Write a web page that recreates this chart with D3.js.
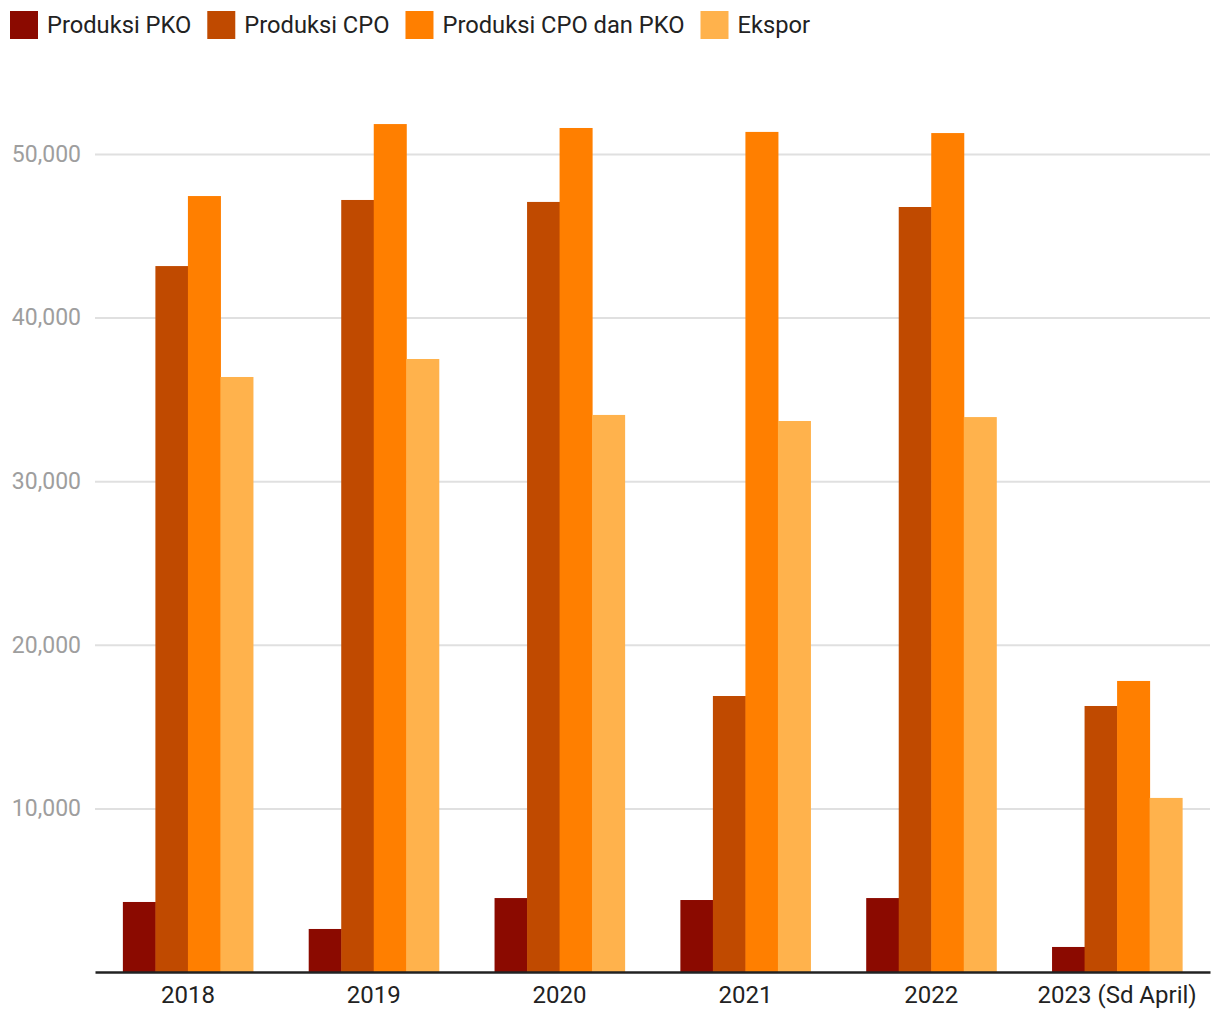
<!DOCTYPE html>
<html>
<head>
<meta charset="utf-8">
<script src="https://cdn.jsdelivr.net/npm/d3@7"></script>
<style>
  body { margin: 0; background: #fff; }
  text { font-family: Roboto, "Noto Sans", sans-serif; }
</style>
</head>
<body>
<div id="chart"></div>
<script>
const years = ["2018", "2019", "2020", "2021", "2022", "2023 (Sd April)"];
const seriesNames = ["Produksi PKO", "Produksi CPO", "Produksi CPO dan PKO", "Ekspor"];
const produksiPKO = [4280, 2630, 4520, 4400, 4520, 1530];
const produksiCPO = [43150, 47190, 47070, 16870, 46760, 16260];
const produksiTotal = [47430, 51830, 51590, 51350, 51280, 17790];
const ekspor = [36370, 37470, 34050, 33680, 33920, 10640];
const yTicks = [10000, 20000, 30000, 40000, 50000];
const colors = ["#8b0a00", "#c04a00", "#ff7f00", "#ffb24c"];

const seriesValues = [produksiPKO, produksiCPO, produksiTotal, ekspor];

const svgWidth = 1220;
const svgHeight = 1020;
const margin = {top: 72, right: 10, bottom: 48, left: 95};
const chartWidth = svgWidth - margin.left - margin.right;
const chartHeight = svgHeight - margin.top - margin.bottom;

const svg = d3.select("#chart")
    .append("svg")
        .attr("width", svgWidth)
        .attr("height", svgHeight);

const chart = svg.append("g")
    .attr("transform", `translate(${margin.left}, ${margin.top})`);

// scales
const yScale = d3.scaleLinear()
    .domain([0, 55000])
    .range([chartHeight, chartHeight - 55000 * 163.6 / 10000]);

const xScale = d3.scaleBand()
    .domain(years)
    .range([0, chartWidth])
    .paddingInner(0.3)
    .paddingOuter(0.15);

const innerScale = d3.scaleBand()
    .domain(seriesNames)
    .range([0, xScale.bandwidth()]);

// grid lines + y labels
const yAxis = d3.axisLeft(yScale)
    .tickValues(yTicks)
    .tickSize(-chartWidth)
    .tickFormat(d3.format(","));

const yAxisGroup = chart.append("g").call(yAxis);
yAxisGroup.select(".domain").remove();
yAxisGroup.selectAll(".tick line")
    .attr("stroke", "#e0e0e0")
    .attr("stroke-width", 2);
yAxisGroup.selectAll(".tick text")
    .attr("x", -14)
    .attr("fill", "#9e9e9e")
    .style("font-size", "23px");

// bars
const groups = chart.selectAll(".year")
    .data(years)
    .enter()
    .append("g")
        .attr("class", "year")
        .attr("transform", d => `translate(${xScale(d)}, 0)`);

groups.selectAll("rect")
    .data((d, i) => seriesNames.map((s, j) => ({series: s, value: seriesValues[j][i], color: colors[j]})))
    .enter()
    .append("rect")
        .attr("x", d => innerScale(d.series))
        .attr("width", innerScale.bandwidth() + 0.5)
        .attr("y", d => yScale(d.value))
        .attr("height", d => yScale(0) - yScale(d.value))
        .attr("fill", d => d.color);

// x axis
const xAxis = d3.axisBottom(xScale).tickSize(0).tickPadding(14);
const xAxisGroup = chart.append("g")
    .attr("transform", `translate(0, ${chartHeight})`)
    .call(xAxis);
xAxisGroup.select(".domain")
    .attr("stroke", "#222")
    .attr("stroke-width", 2.5);
xAxisGroup.selectAll(".tick text")
    .attr("fill", "#222")
    .style("font-size", "24px");

// legend
const legend = svg.append("g").attr("transform", "translate(10, 11)");
let lx = 0;
seriesNames.forEach((name, i) => {
    const item = legend.append("g").attr("transform", `translate(${lx}, 0)`);
    item.append("rect")
        .attr("width", 28)
        .attr("height", 28)
        .attr("fill", colors[i]);
    const t = item.append("text")
        .attr("x", 37)
        .attr("y", 14)
        .attr("dy", "0.35em")
        .attr("fill", "#222")
        .style("font-size", "23.7px")
        .text(name);
    lx += 37 + t.node().getComputedTextLength() + 16;
});
</script>
</body>
</html>
